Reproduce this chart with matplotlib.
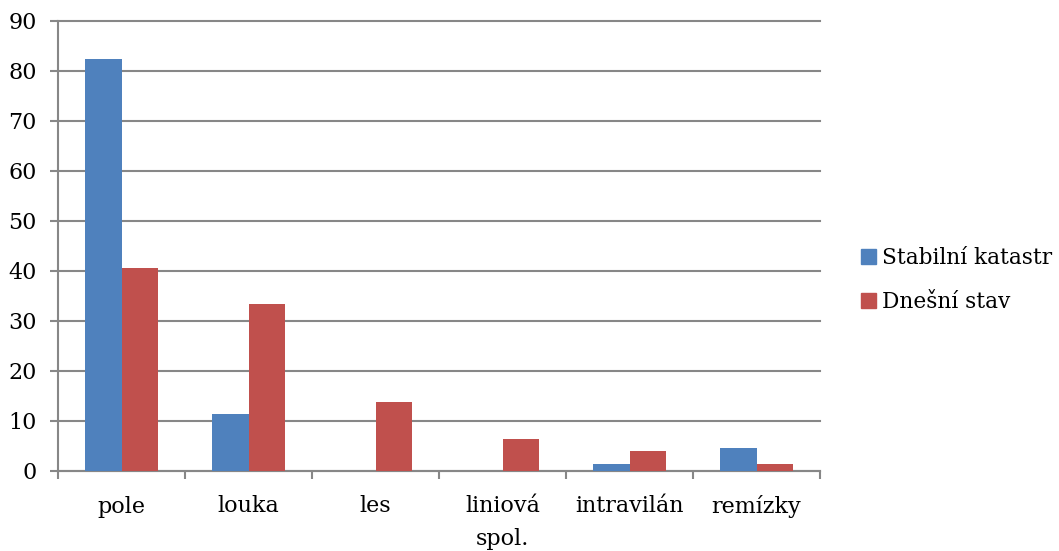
import matplotlib
matplotlib.use("Agg")
import matplotlib.pyplot as plt
import numpy as np
from matplotlib.patches import Patch

categories = ["pole", "louka", "les", "liniová\nspol.", "intravilán", "remízky"]
series_names = ["Stabilní katastr", "Dnešní stav"]
stabilni = [82.3, 11.4, 0, 0, 1.4, 4.6]
dnesni = [40.5, 33.4, 13.7, 6.4, 3.9, 1.4]
colors = ["#4F81BD", "#C0504D"]

plt.rcParams['font.family'] = ['DejaVu Serif']
FS = 16

fig = plt.figure(figsize=(10.59, 5.51), dpi=100)
ax = fig.add_axes([58/1059, 1-470.5/551, (820-58)/1059, (470.5-20.5)/551])

x = np.arange(len(categories))
w = 0.284
ax.bar(x - w/2, stabilni, w, color=colors[0], zorder=3)
ax.bar(x + w/2, dnesni, w, color=colors[1], zorder=3)

ax.set_xlim(-0.5, len(categories) - 0.5)
ax.set_ylim(0, 90)
ax.set_yticks(range(0, 91, 10))
ax.yaxis.grid(True, color="#878787", linewidth=1.5, zorder=0)
ax.set_axisbelow(True)
for gl in ax.get_ygridlines():
    gl.set_clip_on(False)
for s in ["top", "right"]:
    ax.spines[s].set_visible(False)
for s in ["left", "bottom"]:
    ax.spines[s].set_color("#878787")
    ax.spines[s].set_linewidth(1.5)

ax.set_xticks(np.arange(-0.5, len(categories), 1))
ax.set_xticklabels([])
ax.set_xticks(x, minor=True)
ax.set_xticklabels(categories, minor=True, fontsize=FS, linespacing=1.6)
ax.tick_params(axis="x", which="major", length=5.8, width=1.5, color="#878787")
ax.tick_params(axis="x", which="minor", length=0, pad=18)
ax.tick_params(axis="y", length=5.8, width=1.5, color="#878787", labelsize=FS, pad=9.5)

handles = [Patch(color=c) for c in colors]
fig.legend(handles, series_names, loc="center left", bbox_to_anchor=(861/1059, 1-280/551),
           frameon=False, fontsize=15.6, handlelength=0.67, handleheight=0.67,
           handletextpad=0.3, labelspacing=1.0, borderaxespad=0, borderpad=0)

fig.savefig("out.png", dpi=100)
